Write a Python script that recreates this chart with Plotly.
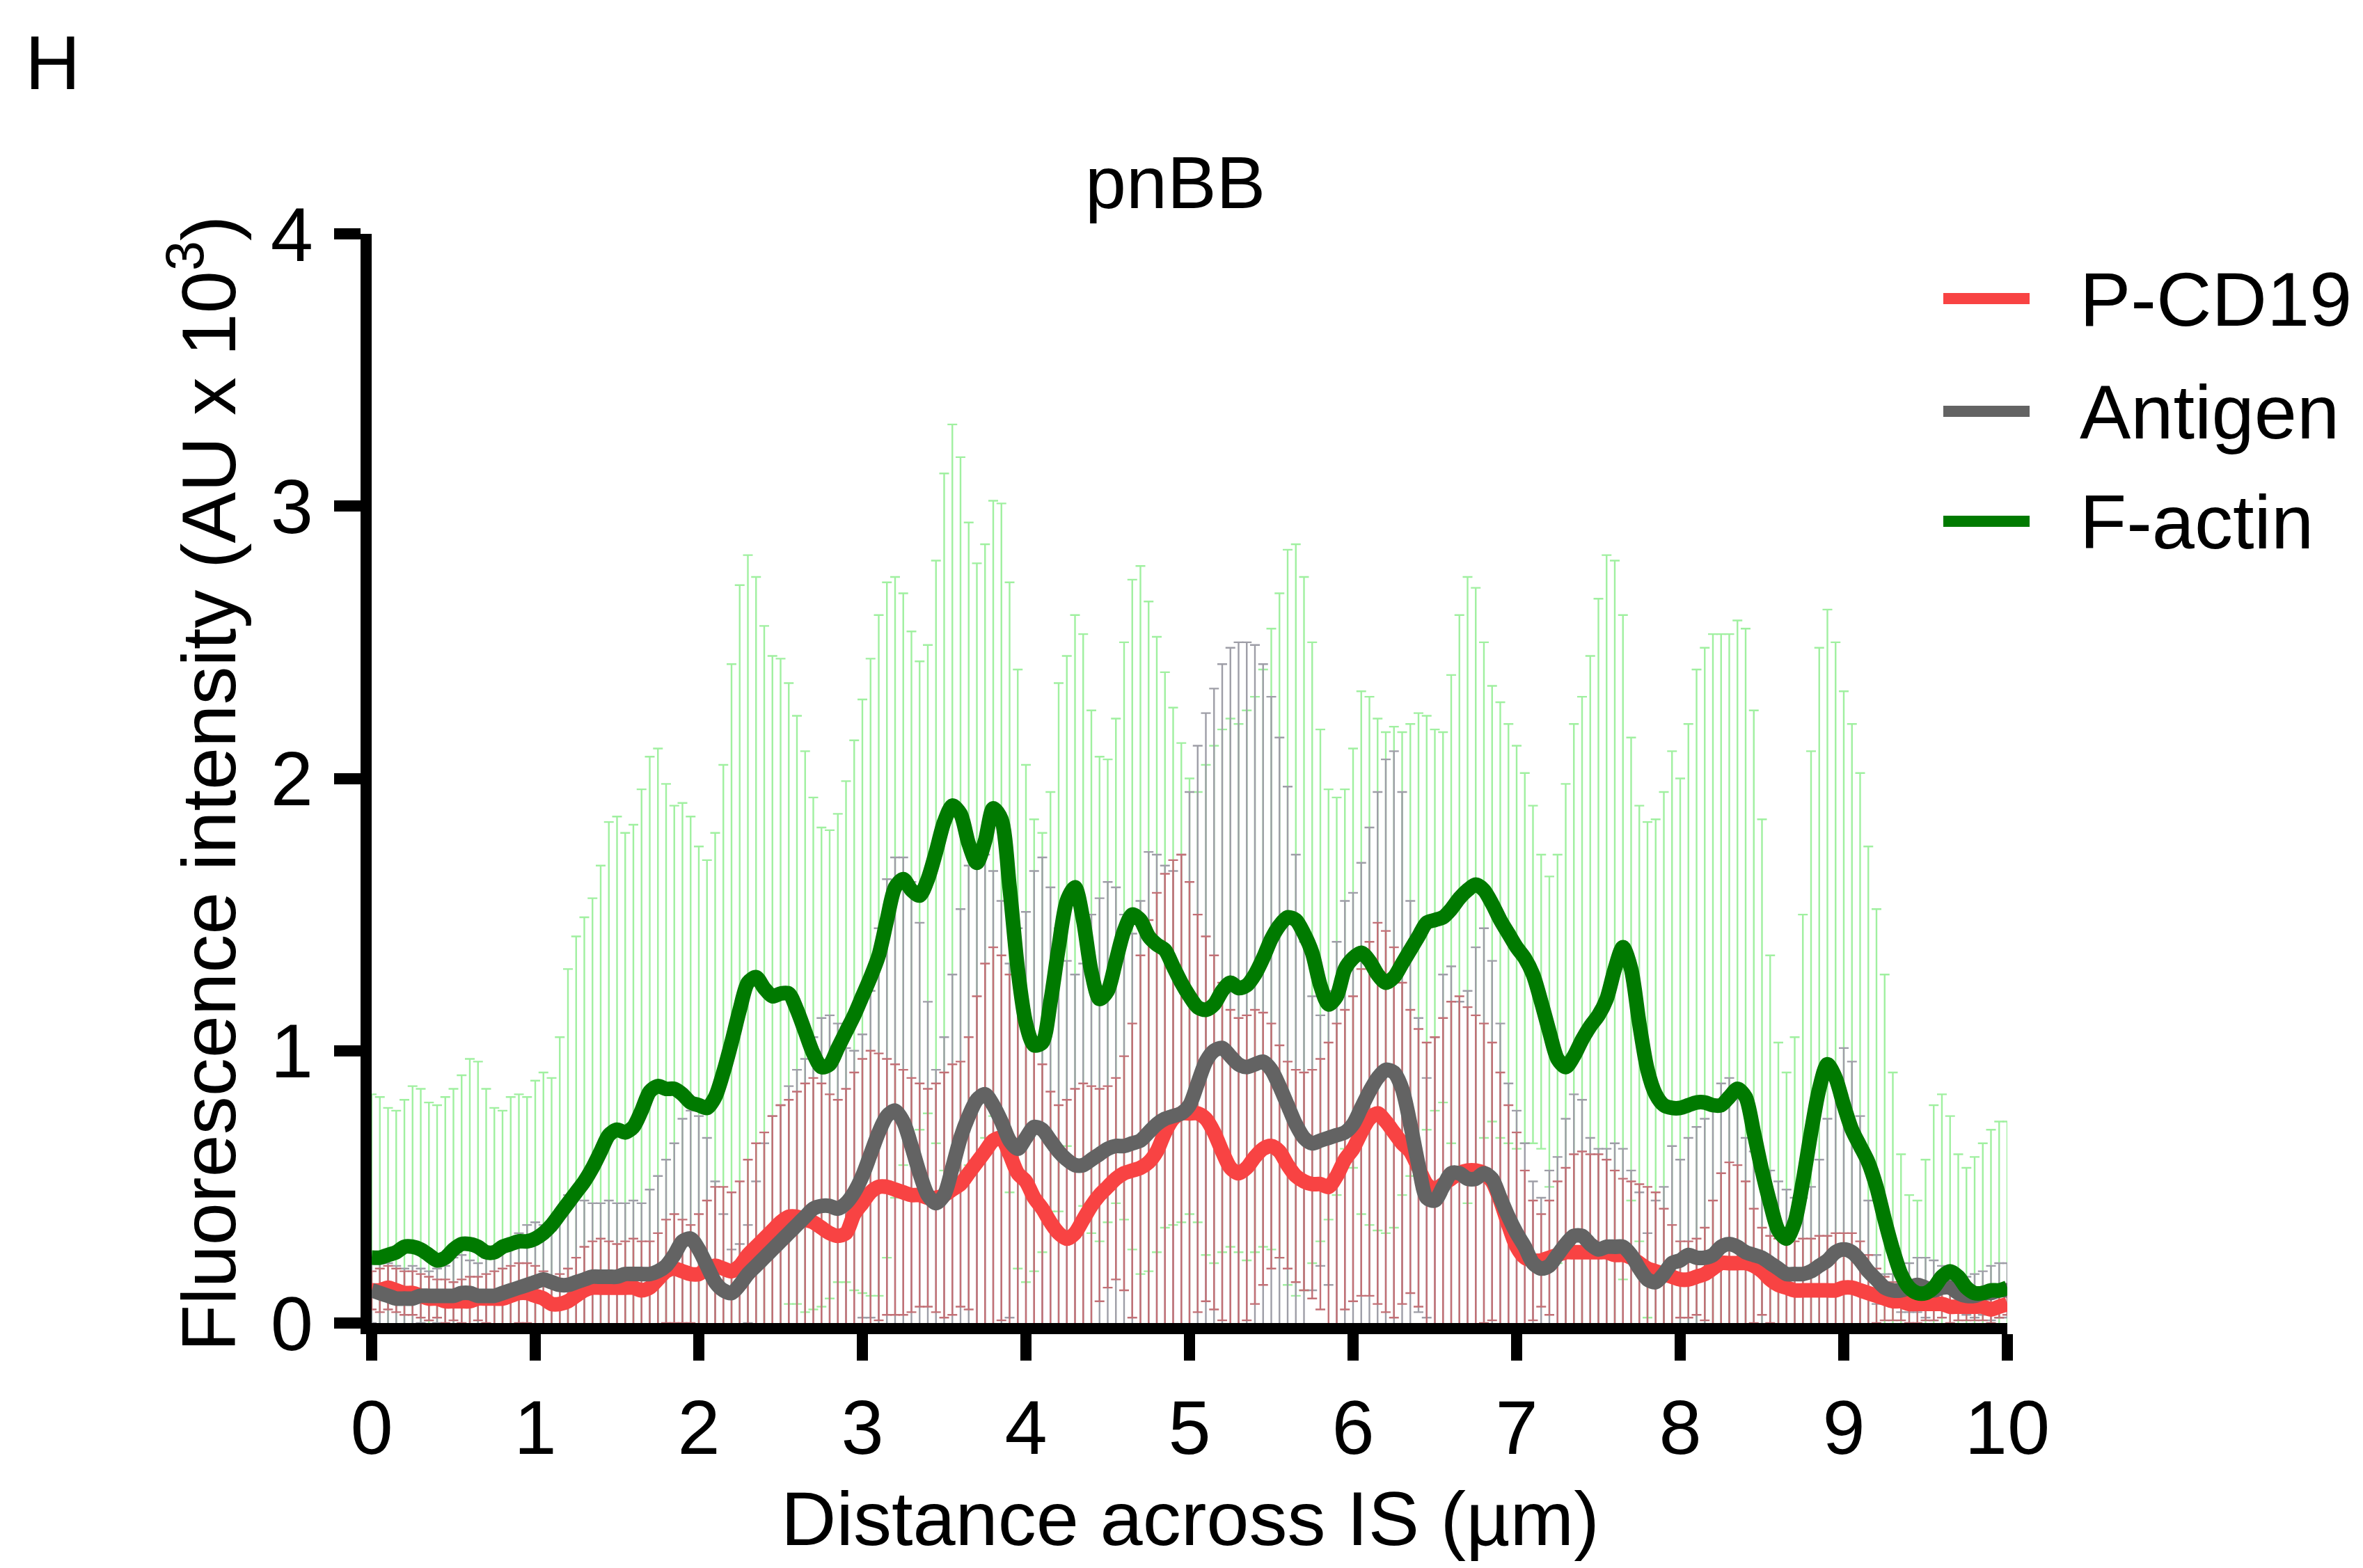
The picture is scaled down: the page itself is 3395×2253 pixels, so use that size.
import plotly.graph_objects as go

# ---------------- data (values in AU x 10^3) ----------------
# sampling grid across the immunological synapse (µm)
distance_um = [round(i * 0.05, 2) for i in range(201)]

pcd19_mean = [
    0.12, 0.12, 0.13, 0.12, 0.11, 0.11, 0.10, 0.09, 0.09, 0.08,
    0.08, 0.08, 0.08, 0.09, 0.09, 0.09, 0.09, 0.10, 0.11, 0.11,
    0.10, 0.09, 0.07, 0.07, 0.08, 0.10, 0.12, 0.13, 0.13, 0.13,
    0.13, 0.13, 0.13, 0.12, 0.13, 0.16, 0.19, 0.20, 0.19, 0.18,
    0.18, 0.20, 0.21, 0.20, 0.19, 0.21, 0.25, 0.28, 0.31, 0.34,
    0.37, 0.39, 0.39, 0.38, 0.37, 0.35, 0.33, 0.32, 0.33, 0.40,
    0.44, 0.48, 0.50, 0.50, 0.49, 0.48, 0.47, 0.47, 0.46, 0.46,
    0.47, 0.49, 0.51, 0.55, 0.59, 0.63, 0.67, 0.68, 0.62, 0.55,
    0.52, 0.46, 0.42, 0.37, 0.33, 0.31, 0.33, 0.38, 0.43, 0.47,
    0.50, 0.53, 0.55, 0.56, 0.57, 0.59, 0.63, 0.70, 0.75, 0.77,
    0.77, 0.77, 0.75, 0.70, 0.63, 0.57, 0.55, 0.57, 0.61, 0.64,
    0.65, 0.63, 0.58, 0.54, 0.52, 0.51, 0.51, 0.50, 0.54, 0.60,
    0.64, 0.70, 0.75, 0.77, 0.74, 0.70, 0.66, 0.63, 0.57, 0.51,
    0.49, 0.51, 0.53, 0.55, 0.56, 0.56, 0.55, 0.52, 0.45, 0.36,
    0.28, 0.24, 0.23, 0.23, 0.24, 0.25, 0.26, 0.26, 0.26, 0.26,
    0.26, 0.26, 0.25, 0.25, 0.24, 0.22, 0.20, 0.19, 0.18, 0.17,
    0.16, 0.16, 0.17, 0.18, 0.20, 0.22, 0.22, 0.22, 0.22, 0.21,
    0.19, 0.16, 0.14, 0.13, 0.12, 0.12, 0.12, 0.12, 0.12, 0.12,
    0.13, 0.13, 0.12, 0.11, 0.10, 0.09, 0.08, 0.08, 0.07, 0.07,
    0.07, 0.07, 0.07, 0.06, 0.06, 0.06, 0.06, 0.06, 0.05, 0.06,
    0.07,
]
pcd19_upper = [  # mean + SD
    0.19, 0.20, 0.21, 0.20, 0.19, 0.19, 0.18, 0.17, 0.16, 0.16,
    0.15, 0.16, 0.17, 0.17, 0.18, 0.19, 0.20, 0.21, 0.22, 0.22,
    0.21, 0.19, 0.17, 0.18, 0.20, 0.24, 0.28, 0.30, 0.31, 0.30,
    0.29, 0.30, 0.31, 0.30, 0.30, 0.33, 0.38, 0.40, 0.38, 0.36,
    0.40, 0.45, 0.50, 0.50, 0.48, 0.52, 0.60, 0.66, 0.70, 0.76,
    0.80, 0.82, 0.85, 0.88, 0.90, 0.88, 0.84, 0.82, 0.86, 0.92,
    0.97, 1.00, 0.99, 0.97, 0.95, 0.93, 0.90, 0.88, 0.86, 0.88,
    0.92, 0.95, 0.96, 1.05, 1.20, 1.32, 1.38, 1.35, 1.28, 1.25,
    1.15, 1.05, 0.95, 0.85, 0.80, 0.82, 0.86, 0.88, 0.87, 0.86,
    0.87, 0.90, 0.98, 1.10, 1.35, 1.48, 1.58, 1.65, 1.70, 1.72,
    1.62, 1.50, 1.42, 1.35, 1.25, 1.15, 1.12, 1.13, 1.15, 1.14,
    1.10, 1.02, 0.96, 0.93, 0.92, 0.93, 0.97, 1.03, 1.10, 1.15,
    1.20, 1.30, 1.40, 1.47, 1.44, 1.38, 1.25, 1.15, 1.08, 1.03,
    1.05, 1.12, 1.18, 1.20, 1.16, 1.13, 1.10, 1.03, 0.92, 0.80,
    0.70, 0.56, 0.45, 0.40, 0.45, 0.52, 0.57, 0.62, 0.63, 0.62,
    0.62, 0.60, 0.56, 0.53, 0.52, 0.51, 0.50, 0.48, 0.42, 0.36,
    0.30, 0.30, 0.31, 0.35, 0.45, 0.55, 0.59, 0.58, 0.52, 0.42,
    0.35, 0.32, 0.31, 0.30, 0.30, 0.31, 0.31, 0.32, 0.32, 0.33,
    0.33, 0.33, 0.30, 0.25, 0.20, 0.17, 0.15, 0.15, 0.14, 0.14,
    0.13, 0.13, 0.12, 0.12, 0.11, 0.11, 0.11, 0.11, 0.10, 0.10,
    0.11,
]

antigen_mean = [
    0.12, 0.11, 0.10, 0.09, 0.09, 0.09, 0.10, 0.10, 0.10, 0.10,
    0.10, 0.11, 0.11, 0.10, 0.10, 0.10, 0.11, 0.12, 0.13, 0.14,
    0.15, 0.16, 0.15, 0.14, 0.14, 0.15, 0.16, 0.17, 0.17, 0.17,
    0.17, 0.18, 0.18, 0.18, 0.18, 0.19, 0.21, 0.25, 0.30, 0.31,
    0.27, 0.21, 0.15, 0.12, 0.11, 0.14, 0.18, 0.21, 0.24, 0.27,
    0.30, 0.33, 0.36, 0.39, 0.42, 0.43, 0.43, 0.42, 0.44, 0.48,
    0.54, 0.62, 0.70, 0.76, 0.78, 0.74, 0.65, 0.55, 0.47, 0.44,
    0.47, 0.57, 0.68, 0.76, 0.82, 0.84, 0.80, 0.74, 0.67, 0.64,
    0.68, 0.72, 0.71, 0.67, 0.63, 0.60, 0.58, 0.58, 0.60, 0.62,
    0.64, 0.65, 0.65, 0.66, 0.67, 0.70, 0.73, 0.75, 0.76, 0.77,
    0.80, 0.88, 0.96, 1.00, 1.01, 0.98, 0.95, 0.94, 0.95, 0.96,
    0.93, 0.87, 0.80, 0.73, 0.68, 0.66, 0.67, 0.68, 0.69, 0.70,
    0.73, 0.79, 0.85, 0.90, 0.93, 0.92, 0.86, 0.73, 0.58, 0.46,
    0.45, 0.50, 0.55, 0.55, 0.53, 0.53, 0.55, 0.53, 0.46, 0.39,
    0.33, 0.28, 0.22, 0.20, 0.21, 0.25, 0.29, 0.32, 0.32, 0.29,
    0.27, 0.28, 0.28, 0.28, 0.25, 0.20, 0.16, 0.15, 0.18, 0.22,
    0.23, 0.25, 0.24, 0.24, 0.25, 0.28, 0.29, 0.28, 0.26, 0.25,
    0.24, 0.22, 0.20, 0.18, 0.18, 0.18, 0.19, 0.21, 0.23, 0.26,
    0.27, 0.26, 0.23, 0.19, 0.16, 0.13, 0.12, 0.12, 0.13, 0.14,
    0.13, 0.12, 0.13, 0.13, 0.11, 0.10, 0.10, 0.11, 0.11, 0.12,
    0.12,
]
antigen_upper = [  # mean + SD
    0.24, 0.25, 0.22, 0.21, 0.20, 0.21, 0.20, 0.19, 0.20, 0.21,
    0.24, 0.25, 0.23, 0.22, 0.24, 0.26, 0.28, 0.30, 0.33, 0.36,
    0.37, 0.36, 0.34, 0.40, 0.47, 0.49, 0.45, 0.44, 0.44, 0.45,
    0.44, 0.44, 0.45, 0.44, 0.49, 0.54, 0.60, 0.66, 0.75, 0.78,
    0.76, 0.68, 0.52, 0.40, 0.27, 0.29, 0.36, 0.52, 0.66, 0.76,
    0.80, 0.87, 0.93, 0.97, 1.05, 1.12, 1.13, 1.10, 1.01, 1.00,
    1.06, 1.22, 1.45, 1.63, 1.71, 1.71, 1.62, 1.47, 1.18, 0.93,
    1.05, 1.28, 1.52, 1.68, 1.74, 1.72, 1.66, 1.55, 1.32, 1.45,
    1.51, 1.66, 1.71, 1.60, 1.45, 1.33, 1.28, 1.32, 1.50, 1.56,
    1.62, 1.60, 1.50, 1.43, 1.55, 1.73, 1.72, 1.68, 1.66, 1.72,
    1.95, 2.12, 2.24, 2.33, 2.42, 2.48, 2.50, 2.50, 2.49, 2.42,
    2.30, 2.15, 1.97, 1.72, 1.40, 1.20, 1.13, 1.22, 1.40, 1.55,
    1.58, 1.69, 1.82, 1.95, 2.07, 2.10, 1.95, 1.55, 1.12, 0.90,
    1.05, 1.28, 1.31, 1.18, 1.22, 1.38, 1.45, 1.33, 1.10, 0.88,
    0.78, 0.66, 0.52, 0.46, 0.56, 0.61, 0.75, 0.84, 0.82, 0.68,
    0.64, 0.64, 0.66, 0.64, 0.56, 0.48, 0.33, 0.45, 0.50, 0.65,
    0.60, 0.68, 0.72, 0.75, 0.80, 0.88, 0.90, 0.85, 0.68, 0.63,
    0.59, 0.56, 0.52, 0.49, 0.46, 0.46, 0.50, 0.60, 0.75, 0.92,
    1.01, 0.96, 0.76, 0.45, 0.25, 0.18, 0.18, 0.20, 0.22, 0.24,
    0.24, 0.23, 0.21, 0.19, 0.17, 0.17, 0.18, 0.19, 0.21, 0.22,
    0.22,
]

factin_mean = [
    0.24, 0.24, 0.25, 0.26, 0.28, 0.28, 0.27, 0.25, 0.23, 0.24,
    0.27, 0.29, 0.29, 0.28, 0.26, 0.26, 0.28, 0.29, 0.30, 0.30,
    0.31, 0.33, 0.36, 0.40, 0.44, 0.48, 0.52, 0.57, 0.63, 0.69,
    0.71, 0.70, 0.72, 0.78, 0.85, 0.87, 0.86, 0.86, 0.84, 0.81,
    0.80, 0.79, 0.83, 0.92, 1.03, 1.15, 1.25, 1.27, 1.23, 1.20,
    1.21, 1.21, 1.15, 1.07, 0.99, 0.94, 0.95, 1.01, 1.07, 1.13,
    1.20, 1.27, 1.35, 1.48, 1.60, 1.63, 1.59, 1.57, 1.63, 1.73,
    1.84, 1.90, 1.87, 1.76, 1.69, 1.77, 1.89, 1.85, 1.60, 1.30,
    1.10, 1.02, 1.03, 1.18, 1.38, 1.55, 1.60, 1.48, 1.29, 1.19,
    1.22, 1.33, 1.44, 1.50, 1.48, 1.42, 1.39, 1.37, 1.31, 1.25,
    1.20, 1.16, 1.15, 1.17, 1.22, 1.25, 1.23, 1.24, 1.28, 1.34,
    1.41, 1.46, 1.49, 1.48, 1.43, 1.36, 1.24, 1.17, 1.20, 1.30,
    1.34, 1.36, 1.33, 1.28, 1.25, 1.27, 1.32, 1.37, 1.42, 1.47,
    1.48, 1.49, 1.52, 1.56, 1.59, 1.61, 1.59, 1.54, 1.48, 1.43,
    1.38, 1.34, 1.28, 1.18, 1.07, 0.97, 0.94, 0.98, 1.04, 1.09,
    1.13, 1.19, 1.30, 1.38, 1.30, 1.10, 0.93, 0.84, 0.80, 0.79,
    0.79, 0.80, 0.81, 0.81, 0.80, 0.80, 0.83, 0.86, 0.83, 0.70,
    0.56, 0.44, 0.34, 0.31, 0.37, 0.52, 0.70, 0.86, 0.95, 0.90,
    0.80, 0.71, 0.65, 0.59, 0.50, 0.38, 0.27, 0.18, 0.13, 0.11,
    0.11, 0.13, 0.17, 0.19, 0.17, 0.13, 0.11, 0.11, 0.12, 0.12,
    0.13,
]
factin_upper = [  # mean + SD
    0.84, 0.83, 0.79, 0.78, 0.82, 0.87, 0.86, 0.81, 0.80, 0.83,
    0.86, 0.91, 0.97, 0.96, 0.86, 0.79, 0.78, 0.83, 0.84, 0.83,
    0.89, 0.92, 0.90, 1.05, 1.30, 1.42, 1.49, 1.56, 1.68, 1.84,
    1.86, 1.80, 1.83, 1.96, 2.08, 2.11, 1.98, 1.90, 1.91, 1.86,
    1.75, 1.70, 1.80, 2.05, 2.42, 2.71, 2.82, 2.74, 2.56, 2.45,
    2.44, 2.35, 2.23, 2.10, 1.93, 1.82, 1.81, 1.87, 1.99, 2.14,
    2.29, 2.44, 2.60, 2.72, 2.74, 2.68, 2.54, 2.43, 2.49, 2.80,
    3.12, 3.30, 3.18, 2.94, 2.79, 2.86, 3.02, 3.01, 2.72, 2.40,
    2.05, 1.85, 1.80, 1.95, 2.35, 2.45, 2.60, 2.53, 2.25, 2.08,
    2.07, 2.22, 2.50, 2.73, 2.78, 2.65, 2.52, 2.39, 2.26, 2.13,
    2.00, 1.95, 2.05, 2.12, 2.18, 2.22, 2.20, 2.25, 2.30, 2.40,
    2.55, 2.68, 2.84, 2.86, 2.74, 2.50, 2.18, 1.96, 1.93, 1.96,
    2.11, 2.32, 2.30, 2.22, 2.17, 2.19, 2.17, 2.20, 2.24, 2.23,
    2.18, 2.17, 2.38, 2.60, 2.74, 2.70, 2.50, 2.34, 2.28, 2.20,
    2.12, 2.02, 1.90, 1.72, 1.64, 1.72, 1.98, 2.20, 2.30, 2.45,
    2.66, 2.82, 2.80, 2.60, 2.15, 1.90, 1.84, 1.85, 1.95, 2.10,
    2.00, 2.20, 2.40, 2.48, 2.53, 2.53, 2.53, 2.58, 2.55, 2.25,
    1.85, 1.35, 1.03, 0.92, 1.05, 1.50, 2.10, 2.48, 2.62, 2.50,
    2.32, 2.20, 2.02, 1.75, 1.52, 1.28, 0.92, 0.62, 0.47, 0.45,
    0.60, 0.80, 0.84, 0.76, 0.62, 0.57, 0.61, 0.66, 0.71, 0.74,
    0.74,
]

series_names = ["P-CD19", "Antigen", "F-actin"]
x_ticks = [0, 1, 2, 3, 4, 5, 6, 7, 8, 9, 10]
y_ticks = [0, 1, 2, 3, 4]

for arr in (pcd19_mean, pcd19_upper, antigen_mean, antigen_upper, factin_mean, factin_upper):
    assert len(arr) == len(distance_um), len(arr)

# ---------------- styling ----------------
FONT = "Liberation Sans, Arial, Helvetica, sans-serif"
line_colors = {"P-CD19": "#f84343", "Antigen": "#636363", "F-actin": "#007a00"}
err_colors = {"P-CD19": "rgb(194,112,118)", "Antigen": "rgb(158,158,167)", "F-actin": "rgb(160,240,160)"}

means = {"P-CD19": pcd19_mean, "Antigen": antigen_mean, "F-actin": factin_mean}
uppers = {"P-CD19": pcd19_upper, "Antigen": antigen_upper, "F-actin": factin_upper}

fig = go.Figure()

# error bars (mean ± SD): green lowest, then grey, then red
for name in ["F-actin", "Antigen", "P-CD19"]:
    sd = [round(u - m, 3) for u, m in zip(uppers[name], means[name])]
    fig.add_trace(go.Scatter(
        x=distance_um, y=means[name], mode="markers",
        marker=dict(size=1, color="rgba(0,0,0,0)"),
        error_y=dict(type="data", array=sd, symmetric=True,
                     color=err_colors[name], thickness=2.4, width=7),
        hoverinfo="skip", showlegend=False,
    ))

# mean lines
for name in ["P-CD19", "Antigen", "F-actin"]:
    fig.add_trace(go.Scatter(
        x=distance_um, y=means[name], mode="lines", name=name,
        line=dict(color=line_colors[name], width=21, shape="spline", smoothing=0.8),
        showlegend=False,
    ))

# plot area: x 534..2884 px, y 336..1901 px
L, R, T, B = 534, 2884, 336, 1901
W, H = 3395, 2253
pw, ph = R - L, B - T

def px(xp):
    return (xp - L) / pw

def py(yp):
    return (B - yp) / ph

annotations = [
    dict(text="H", x=px(34), y=py(90), xanchor="left", yanchor="middle",
         font=dict(size=110)),
    dict(text="pnBB", x=px(1688), y=py(262), xanchor="center", yanchor="middle",
         font=dict(size=106)),
    dict(text="Fluorescence intensity (AU x 10<sup>3</sup>)", x=px(291), y=py(1126),
         xanchor="center", yanchor="middle", textangle=-90, font=dict(size=110)),
    dict(text="Distance across IS (µm)", x=px(1710), y=py(2181),
         xanchor="center", yanchor="middle", font=dict(size=110)),
]
shapes = []
legend_y = [429, 591, 749]
for name, ly in zip(series_names, legend_y):
    shapes.append(dict(type="line", xref="paper", yref="paper",
                       x0=px(2792), x1=px(2916), y0=py(ly), y1=py(ly),
                       line=dict(color=line_colors[name], width=16)))
    annotations.append(dict(text=name, x=px(2986), y=py(ly), xanchor="left",
                            yanchor="middle", font=dict(size=110)))

for a in annotations:
    a.update(xref="paper", yref="paper", showarrow=False)
    a["font"].update(family=FONT, color="black")

axis_common = dict(
    showline=True, linewidth=16, linecolor="black", mirror=False,
    ticks="outside", ticklen=38, tickwidth=16, tickcolor="black",
    showgrid=False, zeroline=False,
    tickfont=dict(family=FONT, size=110, color="black"),
)

fig.update_layout(
    width=W, height=H,
    margin=dict(l=L, r=W - R, t=T, b=H - B, pad=0),
    paper_bgcolor="white", plot_bgcolor="white",
    showlegend=False,
    font=dict(family=FONT, color="black"),
    xaxis=dict(range=[0, 10], tickvals=x_ticks, ticktext=[str(v) for v in x_ticks],
               ticklabelstandoff=2, **axis_common),
    yaxis=dict(range=[0, 4], tickvals=y_ticks, ticktext=[str(v) for v in y_ticks],
               ticklabelstandoff=8, **axis_common),
    annotations=annotations,
    shapes=shapes,
)

fig.write_html("out.html")
